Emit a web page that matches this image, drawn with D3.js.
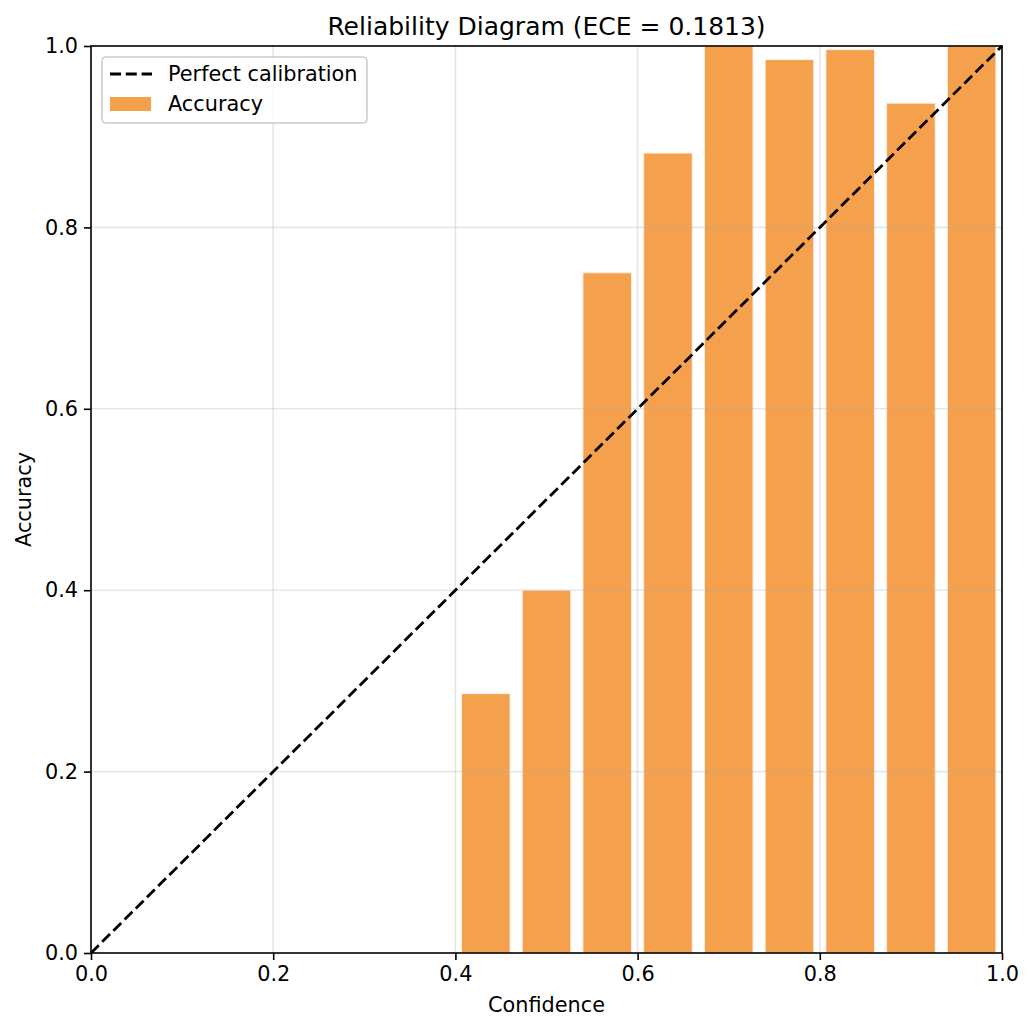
<!DOCTYPE html>
<html>
<head>
<meta charset="utf-8">
<script src="https://cdn.jsdelivr.net/npm/d3@7"></script>
<style>
  body { margin: 0; background: #fff; }
  text { font-family: "DejaVu Sans", sans-serif; fill: #000; }
</style>
</head>
<body>
<svg id="chart" width="1034" height="1031"></svg>
<script>
// 15 confidence bins, only the non-empty ones are listed
var nBins = 15;
var binIndex = [6, 7, 8, 9, 10, 11, 12, 13, 14];
var accuracy = [0.286, 0.400, 0.750, 0.882, 1.000, 0.985, 0.996, 0.937, 1.000];
var ticks = [0.0, 0.2, 0.4, 0.6, 0.8, 1.0];
var eceValue = "0.1813";

var svg = d3.select("#chart"),
    margin = {left: 91, right: 32, top: 46, bottom: 78},
    width = 1034 - margin.left - margin.right,
    height = 1031 - margin.top - margin.bottom,
    g = svg.append("g").attr("transform", "translate(" + margin.left + "," + margin.top + ")");

var fs = 20.8;

var x = d3.scaleLinear().domain([0, 1]).range([0, width]);
var y = d3.scaleLinear().domain([0, 1]).range([height, 0]);

var binW = 1 / nBins;
var bins = binIndex.map(function(b, i) {
  return {center: (b + 0.5) * binW, acc: accuracy[i]};
});

// bars
g.selectAll(".bar")
  .data(bins)
  .enter().append("rect")
    .attr("class", "bar")
    .attr("x", function(d) { return x(d.center - 0.4 * binW); })
    .attr("width", x(0.8 * binW))
    .attr("y", function(d) { return y(d.acc); })
    .attr("height", function(d) { return y(0) - y(d.acc); })
    .attr("fill", "#f4a04d")
    .attr("stroke", "#fdf0e3")
    .attr("stroke-width", 1);

// grid on top of the bars, light
var grid = g.append("g").attr("class", "grid");
grid.selectAll(".gx").data(ticks.slice(1, -1)).enter().append("line")
    .attr("x1", function(d) { return x(d); }).attr("x2", function(d) { return x(d); })
    .attr("y1", 0).attr("y2", height)
    .attr("stroke", "#b0b0b0").attr("stroke-opacity", 0.3).attr("stroke-width", 1.6);
grid.selectAll(".gy").data(ticks.slice(1, -1)).enter().append("line")
    .attr("y1", function(d) { return y(d); }).attr("y2", function(d) { return y(d); })
    .attr("x1", 0).attr("x2", width)
    .attr("stroke", "#b0b0b0").attr("stroke-opacity", 0.3).attr("stroke-width", 1.6);

// perfect calibration diagonal
g.append("line")
    .attr("x1", x(0)).attr("y1", y(0))
    .attr("x2", x(1)).attr("y2", y(1))
    .attr("stroke", "#000")
    .attr("stroke-width", 2.8)
    .attr("stroke-dasharray", "11,4.8");

// axes
var xAxis = g.append("g")
    .attr("transform", "translate(0," + height + ")")
    .call(d3.axisBottom(x).tickValues(ticks).tickFormat(d3.format(".1f")).tickSize(7).tickPadding(6));
var yAxis = g.append("g")
    .call(d3.axisLeft(y).tickValues(ticks).tickFormat(d3.format(".1f")).tickSize(7).tickPadding(6));
[xAxis, yAxis].forEach(function(a) {
  a.select(".domain").remove();
  a.selectAll("line").attr("stroke", "#000").attr("stroke-width", 1.6);
  a.selectAll("text").attr("font-size", fs).attr("font-family", "DejaVu Sans").attr("fill", "#000");
});
xAxis.selectAll("text").attr("dy", "0.72em");

// frame
g.append("rect")
    .attr("width", width).attr("height", height)
    .attr("fill", "none").attr("stroke", "#000").attr("stroke-width", 1.6);

// titles
svg.append("text")
    .attr("x", margin.left + width / 2).attr("y", 35)
    .attr("text-anchor", "middle").attr("font-size", 25)
    .text("Reliability Diagram (ECE = " + eceValue + ")");
svg.append("text")
    .attr("x", margin.left + width / 2).attr("y", 1012)
    .attr("text-anchor", "middle").attr("font-size", fs)
    .text("Confidence");
svg.append("text")
    .attr("transform", "translate(31," + (margin.top + height / 2) + ") rotate(-90)")
    .attr("text-anchor", "middle").attr("font-size", fs)
    .text("Accuracy");

// legend
var lg = g.append("g").attr("transform", "translate(11,11)");
lg.append("rect")
    .attr("width", 265).attr("height", 66).attr("rx", 4)
    .attr("fill", "#fff").attr("fill-opacity", 0.8)
    .attr("stroke", "#cccccc").attr("stroke-width", 1.6);
lg.append("line")
    .attr("x1", 8).attr("x2", 50).attr("y1", 17).attr("y2", 17)
    .attr("stroke", "#000").attr("stroke-width", 2.8).attr("stroke-dasharray", "11,4.8");
lg.append("text").attr("x", 66).attr("y", 24).attr("font-size", fs).text("Perfect calibration");
lg.append("rect")
    .attr("x", 8).attr("y", 40).attr("width", 41).attr("height", 14)
    .attr("fill", "#f4a04d");
lg.append("text").attr("x", 66).attr("y", 54).attr("font-size", fs).text("Accuracy");
</script>
</body>
</html>
